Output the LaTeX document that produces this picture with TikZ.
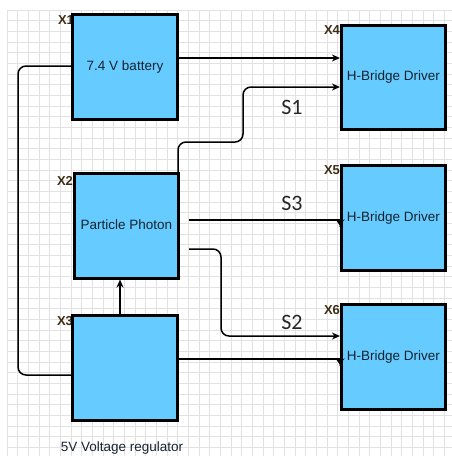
\documentclass[tikz,border=0pt]{standalone}
\usepackage{fontspec}
\setmainfont{Liberation Sans}
\newfontfamily\sigfont{Carlito}
\usetikzlibrary{arrows.meta,positioning,shapes.geometric,calc}
\definecolor{boxblue}{RGB}{102,204,255}
\definecolor{boxtext}{RGB}{22,34,48}
\definecolor{tagtext}{RGB}{60,45,20}
\definecolor{gridgray}{RGB}{226,226,226}

\begin{document}
\begin{tikzpicture}[x=1pt,y=-1pt,
  every node/.style={font=\fontsize{13.5}{15}\selectfont},
  block/.style={draw,line width=2.6pt,fill=boxblue,minimum size=104.5pt,inner sep=0pt,text=boxtext},
  tag/.style={text=tagtext,font=\bfseries\fontsize{13}{15}\selectfont},
  sig/.style={font=\sigfont\fontsize{22}{24}\selectfont,text=black!85},
  wire/.style={line width=1.5pt,rounded corners=8pt},
  arr/.style={wire,-{Stealth[length=8pt,width=7pt,inset=2.5pt]}},
  tipdn/.style={fill,isosceles triangle,isosceles triangle apex angle=70,shape border rotate=-90,inner sep=0pt,minimum width=6pt,minimum height=5pt,anchor=north}]
  \useasboundingbox (0,0) rectangle (452,456);
  % grid paper
  \foreach \i in {0,...,41} {
    \draw[gridgray,line width=0.8pt] ({7+10.67*\i},10) -- ({7+10.67*\i},456);
    \draw[gridgray,line width=0.8pt] (7,{10+10.67*\i}) -- (452,{10+10.67*\i});
  }
  % part tags (behind the blocks)
  \node[tag] (t1) at (66,20) {X1};
  \node[tag] (t2) at (65,181) {X2};
  \node[tag] (t3) at (65,321) {X3};
  \node[tag] (t4) at (332,30) {X4};
  \node[tag] (t5) at (332,170) {X5};
  \node[tag] (t6) at (332,310) {X6};
  % blocks
  \node[block] (bat) at (125,67) {\raisebox{3pt}{7.4 V battery}};
  \node[block] (pho) at (126.5,226) {\raisebox{3pt}{Particle Photon}};
  \node[block] (reg) at (125,368) {};
  \node[block] (hb1) at (393.5,77.5) {\raisebox{3pt}{H-Bridge Driver}};
  \node[block] (hb2) at (393.5,218) {\raisebox{3pt}{H-Bridge Driver}};
  \node[block] (hb3) at (393.5,357) {\raisebox{3pt}{H-Bridge Driver}};
  \node[text=boxtext] (reglbl) at (122,448) {5V Voltage regulator};
  % connections
  \draw[arr] (bat.east |- 0,58) -- (hb1.west |- 0,58);
  \draw[arr] (pho.north -| 178,0) |- (243,142) |- (hb1.west |- 0,87);
  \draw[wire] ([xshift=9pt]pho.east |- 0,220) -- (hb2.west |- 0,220) node[tipdn] {};
  \draw[arr] ([xshift=9pt]pho.east |- 0,249) -| (221,336) -- (hb3.west |- 0,336);
  \draw[wire] (reg.east |- 0,359) -- (hb3.west |- 0,359) node[tipdn] {};
  \draw[arr] (reg.north -| 120,0) -- (pho.south -| 120,0);
  \draw[wire] (bat.west |- 0,66) -| (18,375) -- (reg.west |- 0,375);
  % signal names
  \node[sig] (s1) at (292,107) {S1};
  \node[sig] (s3) at (292,203) {S3};
  \node[sig] (s2) at (292,322) {S2};
\end{tikzpicture}
\end{document}
